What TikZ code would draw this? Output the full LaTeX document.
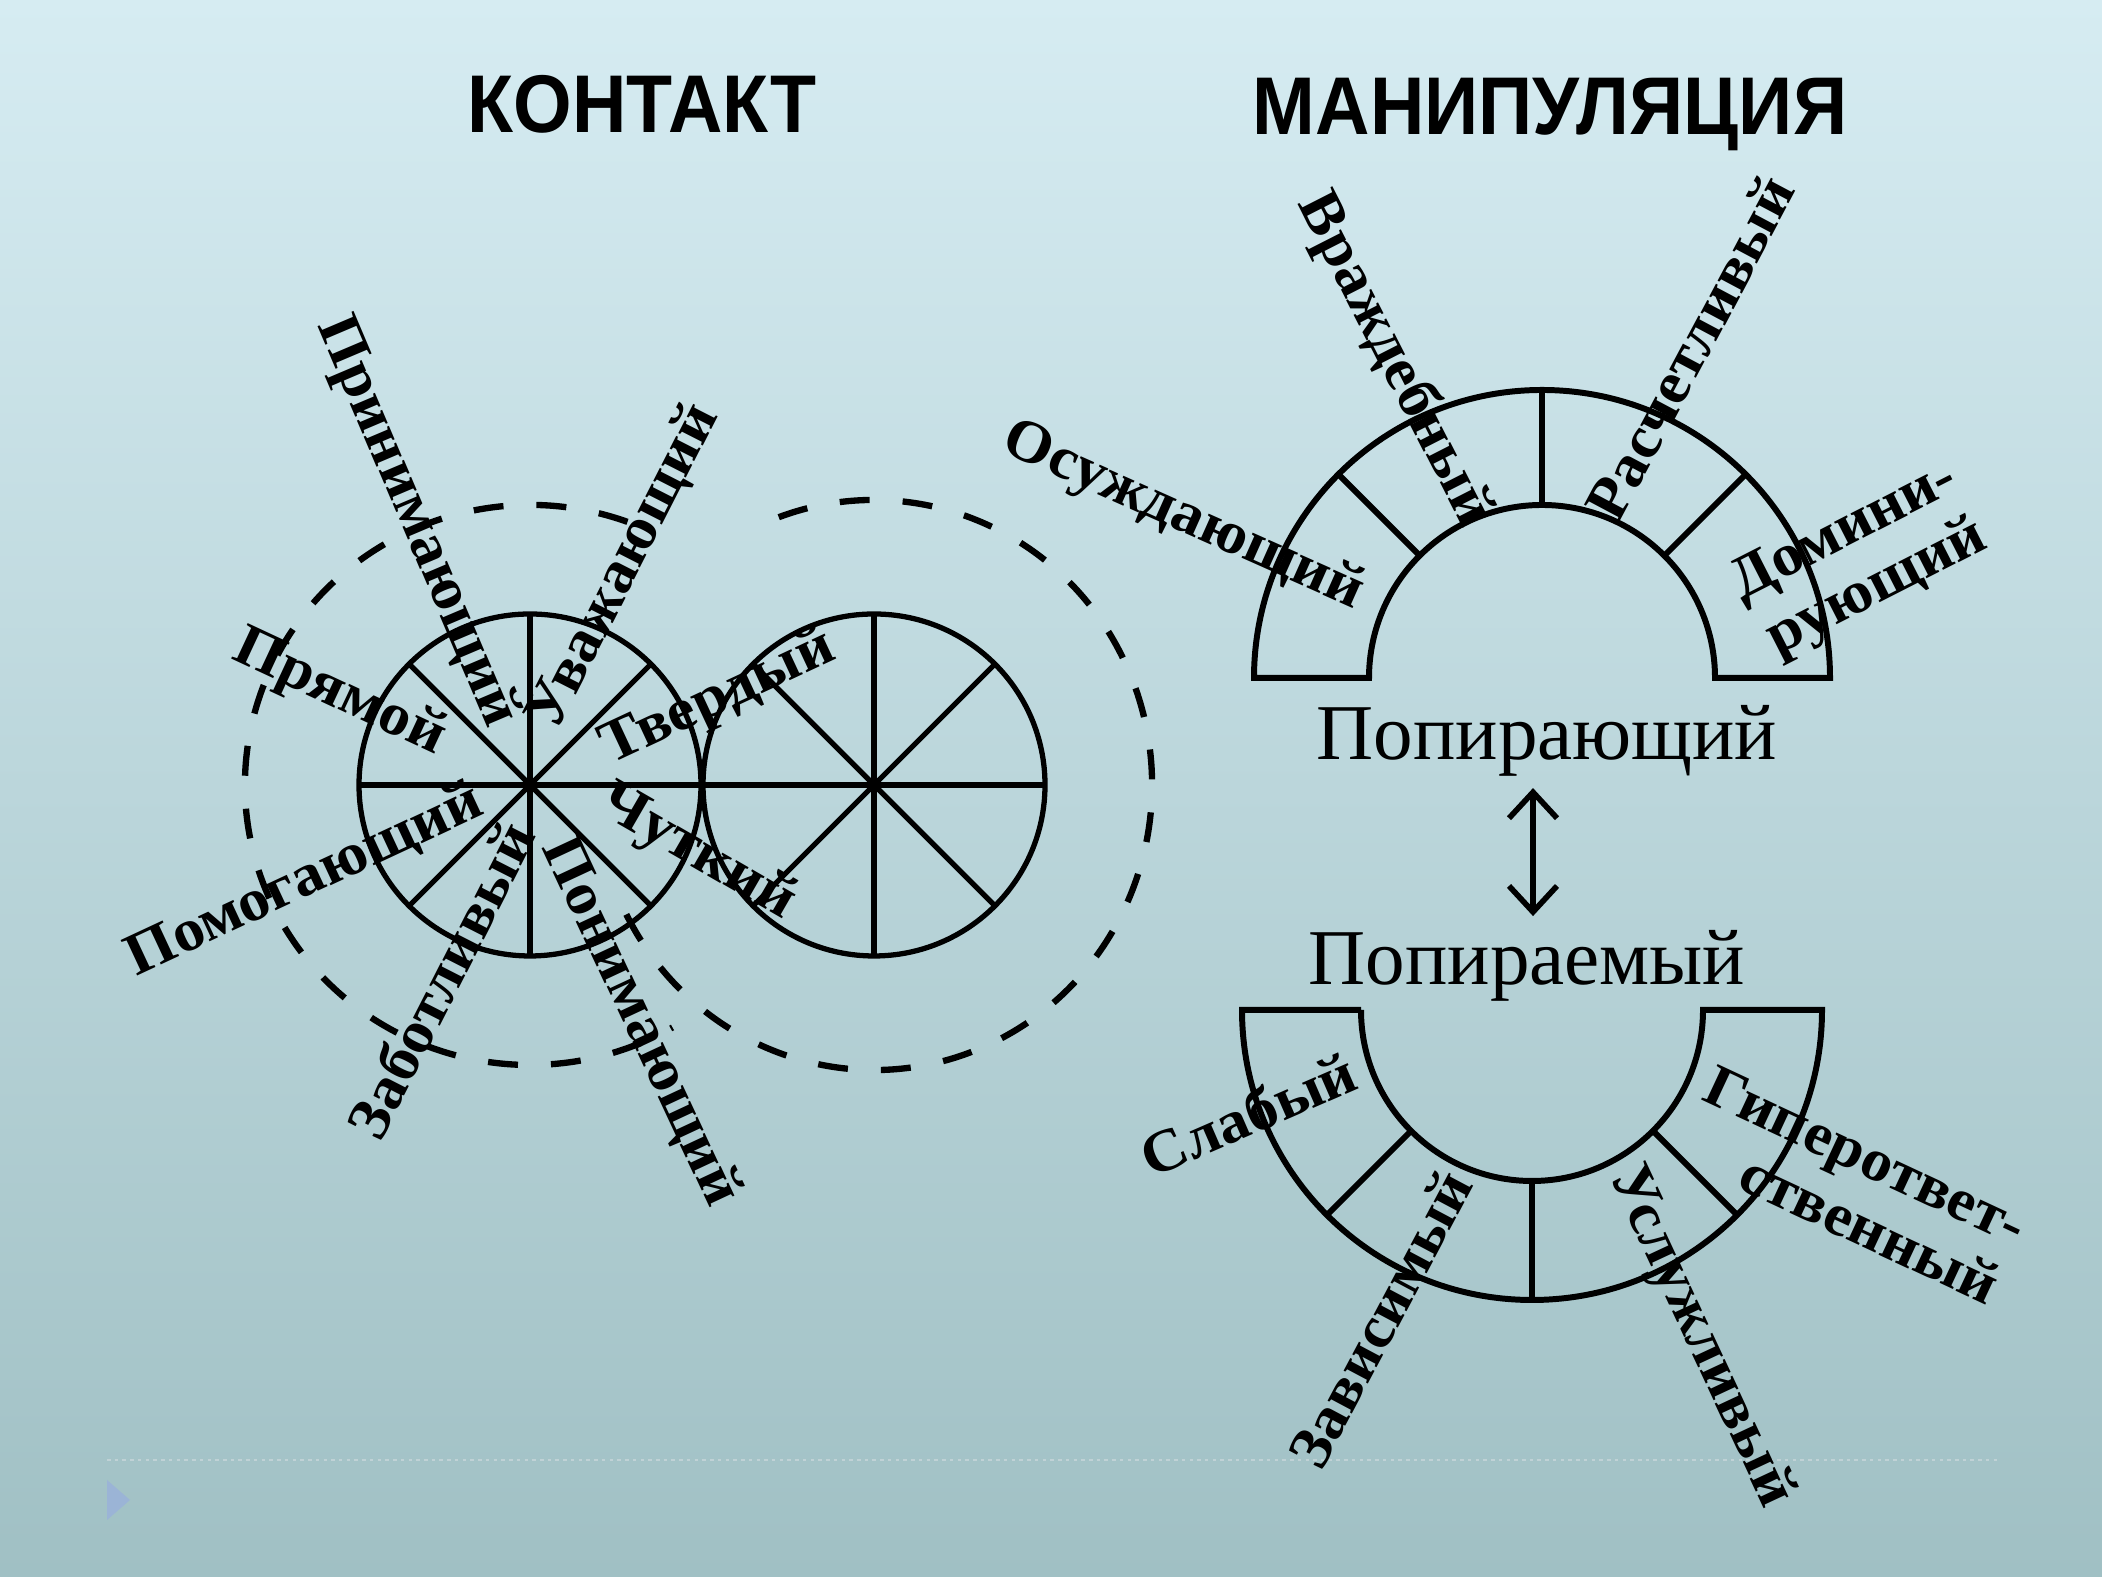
\documentclass[tikz,border=0pt]{standalone}
\usepackage{fontspec}
\setmainfont{Liberation Serif}
\newfontfamily\lblfamily{Liberation Serif}[FakeStretch=1.05]
\newfontfamily\ttlfamily{Liberation Sans}[FakeStretch=0.92]
\usepackage{tikz}
\usetikzlibrary{arrows.meta,calc}
\definecolor{bgtop}{RGB}{214,236,242}
\definecolor{bgbot}{RGB}{160,192,196}
\definecolor{rulegray}{RGB}{192,210,214}
\definecolor{bullet}{RGB}{155,180,214}

\begin{document}
\begin{tikzpicture}[
  lbl/.style={font=\lblfamily\bfseries\fontsize{17}{18.5}\selectfont, inner sep=0pt},
  mid/.style={font=\fontsize{22.5}{26}\selectfont, inner sep=0pt},
  ttl/.style={font=\ttlfamily\bfseries\fontsize{23.3}{28}\selectfont, inner sep=0pt},
  wheel/.style={line width=1.5pt},
  arch/.style={line width=1.7pt},
  zone/.style={line width=1.8pt, dash pattern=on 0.3cm off 0.33cm},
  dblarr/.style={{Straight Barb[length=2.6mm,width=4.8mm]}-{Straight Barb[length=2.6mm,width=4.8mm]}, line width=1.6pt}
]
  \shade[top color=bgtop, bottom color=bgbot] (0,0) rectangle (21.02,15.77);
  \useasboundingbox (0,0) rectangle (21.02,15.77);
  \draw[rulegray, line width=0.8pt, dash pattern=on 1pt off 1.2pt] (1.07,1.17) -- (19.97,1.17);
  \fill[bullet] (1.07,0.97) -- (1.30,0.77) -- (1.07,0.57) -- cycle;

  \node[ttl, anchor=base] (kontakt) at (6.42,14.44) {КОНТАКТ};
  \node[ttl, anchor=base] (manip) at (15.50,14.42) {МАНИПУЛЯЦИЯ};

  \coordinate (c1) at (5.30,7.92);
  \coordinate (c2) at (8.74,7.92);
  \coordinate (up) at (15.42,8.99);
  \coordinate (dn) at (15.32,5.67);

  \foreach \c in {c1,c2}{
    \draw[wheel] (\c) circle[radius=1.71];
    \foreach \a in {0,45,90,135}
      \draw[wheel] ($(\c)+(\a:1.71)$) -- ($(\c)+(\a+180:1.71)$);
    \fill (\c) circle[radius=0.05];
  }
  \draw[zone] (c1) ++(70:2.85 and 2.80) arc[start angle=70, end angle=300, x radius=2.85, y radius=2.80];
  \draw[zone] (c2) ++(-153:2.78 and 2.85) arc[start angle=-153, end angle=116, x radius=2.78, y radius=2.85];

  \draw[arch] ($(up)+(1.73,0)$) -- ++(1.15,0) arc[start angle=0, end angle=180, radius=2.88]
    -- ++(1.15,0) arc[start angle=180, end angle=0, radius=1.73] -- cycle;
  \foreach \a in {45,90,135}
    \draw[arch] ($(up)+(\a:1.73)$) -- ($(up)+(\a:2.88)$);
  \draw[arch] ($(dn)+(-1.71,0)$) -- ++(-1.19,0) arc[start angle=180, end angle=360, radius=2.90]
    -- ++(-1.19,0) arc[start angle=360, end angle=180, radius=1.71] -- cycle;
  \foreach \a in {225,270,315}
    \draw[arch] ($(dn)+(\a:1.71)$) -- ($(dn)+(\a:2.90)$);

  \node[lbl, rotate=-25] (pryamoj) at (3.39,8.83) {Прямой};
  \node[lbl, rotate=25] (pomog) at (3.05,6.96) {Помогающий};
  \node[lbl, rotate=63] (zabot) at (4.40,5.97) {Заботливый};
  \node[lbl, rotate=-65] (ponim) at (6.40,5.55) {Понимающий};
  \node[lbl, rotate=-30] (chutk) at (6.97,7.24) {Чуткий};
  \node[lbl, rotate=25] (tverd) at (7.18,8.78) {Твердый};
  \node[lbl, rotate=63] (uvazh) at (6.24,10.10) {Уважающий};
  \node[lbl, rotate=-67] (prinim) at (4.16,10.55) {Принимающий};

  \node[lbl, rotate=-24] (osuzh) at (11.83,10.60) {Осуждающий};
  \node[lbl, rotate=-63] (vrazh) at (13.94,12.17) {Враждебный};
  \node[lbl, rotate=62] (rasch) at (16.90,12.29) {Расчетливый};
  \node[lbl, rotate=27, align=right] (domin) at (18.60,10.15) {Домини-\\рующий};

  \node[lbl, rotate=23.5] (slab) at (12.48,4.63) {Слабый};
  \node[lbl, rotate=62] (zavis) at (13.80,2.58) {Зависимый};
  \node[lbl, rotate=-65] (usluzh) at (17.00,2.40) {Услужливый};
  \node[lbl, rotate=-25, align=right] (giper) at (18.52,3.92) {Гиперответ-\\ственный};

  \node[mid, anchor=base] (pa) at (15.47,8.17) {Попирающий};
  \node[mid, anchor=base] (pb) at (15.27,5.92) {Попираемый};
  \coordinate (ax) at (15.33,7);
  \draw[dblarr, shorten <=3pt, shorten >=4pt] (pa.south -| ax) -- (pb.north -| ax);
\end{tikzpicture}
\end{document}
